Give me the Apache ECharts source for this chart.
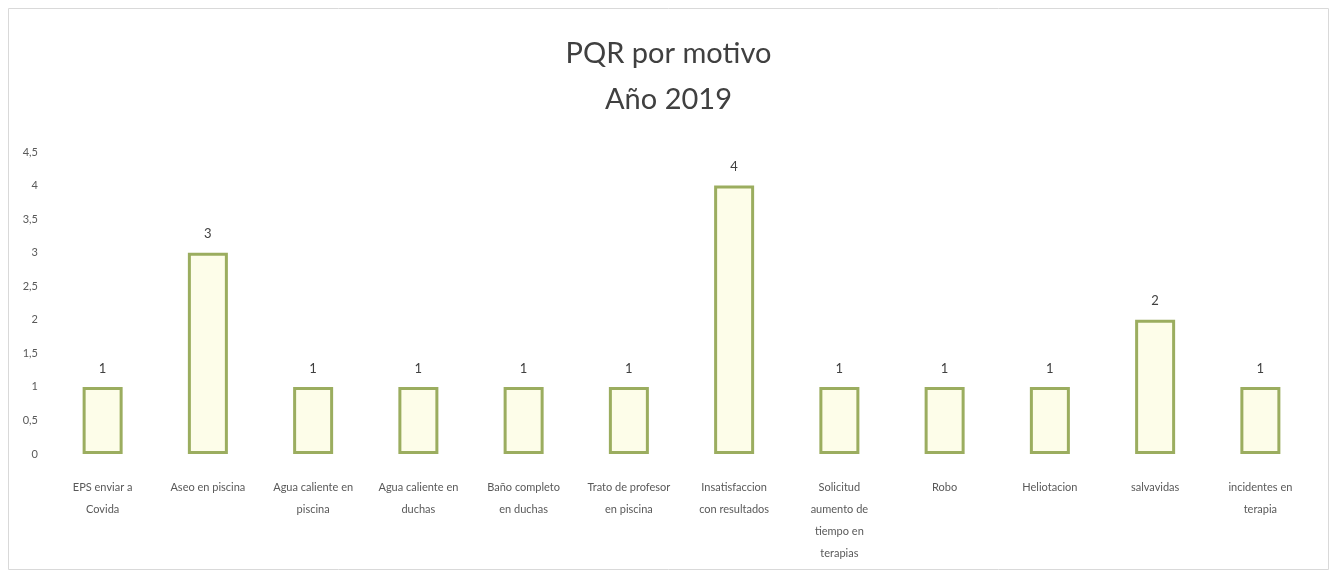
<!DOCTYPE html>
<html>
<head>
<meta charset="utf-8">
<script src="https://cdn.jsdelivr.net/npm/echarts@6/dist/echarts.min.js"></script>
<style>
  html, body { margin: 0; padding: 0; background: #fff; }
  #chart { width: 1337px; height: 573px; }
</style>
</head>
<body>
<div id="chart"></div>
<script>
const motivos = [
    'EPS enviar a\nCovida',
    'Aseo en piscina',
    'Agua caliente en\npiscina',
    'Agua caliente en\nduchas',
    'Baño completo\nen duchas',
    'Trato de profesor\nen piscina',
    'Insatisfaccion\ncon resultados',
    'Solicitud\naumento de\ntiempo en\nterapias',
    'Robo',
    'Heliotacion',
    'salvavidas',
    'incidentes en\nterapia'
];
const cantidades = [1, 3, 1, 1, 1, 1, 4, 1, 1, 1, 2, 1];

var chartDom = document.getElementById('chart');
var myChart = echarts.init(chartDom);

var option = {
    animation: false,
    title: {
        text: 'PQR por motivo\nAño 2019',
        left: 'center',
        top: 26,
        textStyle: {
            fontFamily: 'Lato',
            fontSize: 29,
            fontWeight: 'normal',
            color: '#404040',
            lineHeight: 46
        }
    },
    graphic: [{
        type: 'rect',
        shape: {x: 8.5, y: 8.5, width: 1320, height: 561},
        style: {fill: 'none', stroke: '#d9d9d9', lineWidth: 1}
    }],
    grid: {
        left: 50,
        right: 24,
        top: 152,
        bottom: 119
    },
    xAxis: {
        type: 'category',
        data: motivos,
        axisLine: {show: false},
        axisTick: {show: false},
        axisLabel: {
            interval: 0,
            margin: 22,
            fontFamily: 'Lato',
            fontSize: 11,
            lineHeight: 22,
            color: '#595959'
        }
    },
    yAxis: {
        type: 'value',
        min: 0,
        max: 4.5,
        interval: 0.5,
        splitLine: {show: false},
        axisLine: {show: false},
        axisTick: {show: false},
        axisLabel: {
            margin: 12,
            fontFamily: 'Lato',
            fontSize: 11,
            color: '#595959',
            formatter: v => String(v).replace('.', ',')
        }
    },
    series: [{
        type: 'bar',
        data: cantidades,
        barWidth: 40,
        itemStyle: {
            color: '#fdfde9',
            borderColor: '#9bad5f',
            borderWidth: 3
        },
        label: {
            show: true,
            position: 'top',
            distance: 12,
            fontFamily: 'Lato',
            fontSize: 13,
            color: '#404040'
        }
    }]
};

myChart.setOption(option);
</script>
</body>
</html>
